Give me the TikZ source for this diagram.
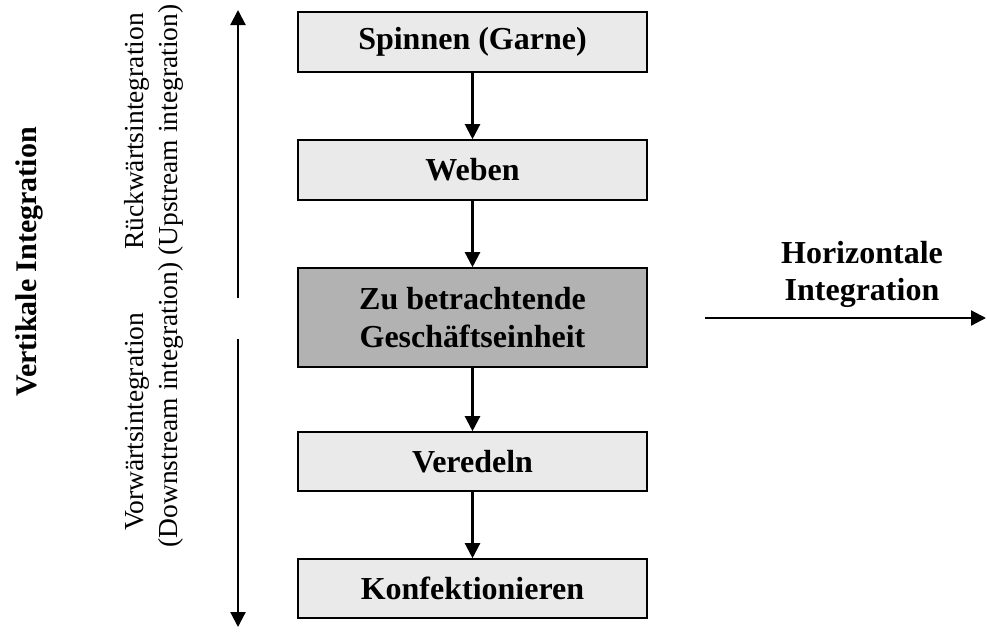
\documentclass[tikz,border=0pt]{standalone}
\usepackage{fontspec}
\setmainfont{Liberation Serif}
\usetikzlibrary{arrows.meta}
\definecolor{stagefill}{HTML}{EAEAEA}
\definecolor{focusfill}{HTML}{B2B2B2}
\begin{document}
\begin{tikzpicture}[x=1pt,y=-1pt,
  stage/.style={draw=black,line width=1.6pt,fill=stagefill,minimum width=349pt,
    inner sep=0pt,align=center,font=\fontsize{32}{38}\selectfont\bfseries},
  focus/.style={stage,fill=focusfill},
  flow/.style={line width=2.2pt,-{Triangle[length=15pt,width=15pt]}},
  sidelabel/.style={rotate=90,inner sep=0pt,font=\fontsize{27.5}{33}\selectfont}]
\useasboundingbox (0,0) rectangle (987,641);

% value chain stages
\node[stage,minimum height=60pt] (spin) at (472.5,42) {Spinnen (Garne)};
\node[stage,minimum height=60pt] (weben) at (472.5,170) {Weben};
\node[focus,minimum height=99pt] (unit) at (472.5,317.5) {Zu betrachtende\\Geschäftseinheit};
\node[stage,minimum height=59pt] (veredeln) at (472.5,461.5) {Veredeln};
\node[stage,minimum height=59pt] (konf) at (472.5,588.5) {Konfektionieren};

\draw[flow] (spin) -- (weben);
\draw[flow] (weben) -- (unit);
\draw[flow] (unit) -- (veredeln);
\draw[flow] (veredeln) -- (konf);

% vertical integration axis
\coordinate (upstart) at (238,298);
\coordinate (uptip) at (238,10);
\coordinate (downstart) at (238,339);
\coordinate (downtip) at (238,627);
\draw[flow] (upstart) -- (uptip);
\draw[flow] (downstart) -- (downtip);

\node[rotate=90,inner sep=0pt,font=\fontsize{30}{36}\selectfont\bfseries] (vert) at (29,262) {Vertikale Integration};
\node[sidelabel,anchor=base west] (fwd) at (143,531) {Vorwärtsintegration};
\node[sidelabel,anchor=base east] (back) at (143,13) {Rückwärtsintegration};
\node[sidelabel,anchor=base] (dirs) at (177,276) {(Downstream integration) (Upstream integration)};

% horizontal integration
\coordinate (hstart) at (705,318);
\coordinate (htip) at (986,318);
\draw[flow] (hstart) -- (htip);
\node[align=center,inner sep=0pt,font=\fontsize{32}{37}\selectfont\bfseries] (horiz) at (862,274) {Horizontale\\Integration};
\end{tikzpicture}
\end{document}
